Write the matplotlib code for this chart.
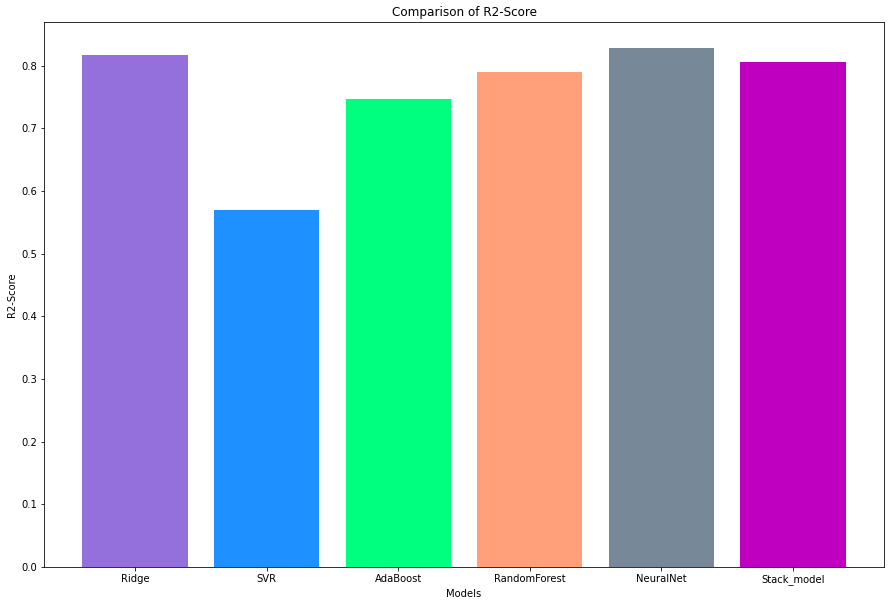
import matplotlib
matplotlib.use("Agg")
import matplotlib.pyplot as plt

models = ["Ridge", "SVR", "AdaBoost", "RandomForest", "NeuralNet", "Stack_model"]
scores = [0.8175, 0.569, 0.746, 0.789, 0.828, 0.805]
colors = ["mediumpurple", "dodgerblue", "springgreen", "lightsalmon", "lightslategray", "#c000c0"]

fig = plt.figure(figsize=(891/72, 605/72), dpi=72)
ax = fig.add_axes([44/891, 1-567/605, 840/891, 545/605])
ax.bar(models, scores, color=colors)
ax.set_title("Comparison of R2-Score")
ax.set_xlabel("Models")
ax.set_ylabel("R2-Score")
fig.savefig("out.png", dpi=72)
